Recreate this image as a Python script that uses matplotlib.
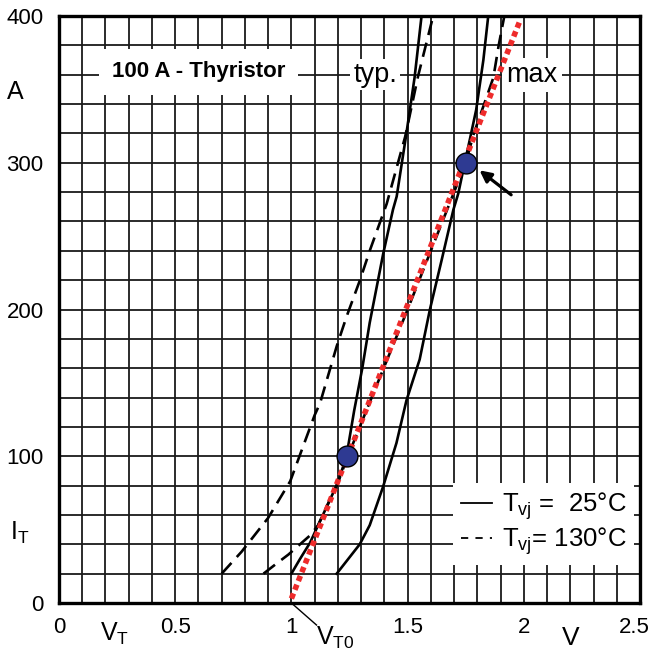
import numpy as np
import matplotlib
matplotlib.use("Agg")
import matplotlib.pyplot as plt
import matplotlib.transforms as mtransforms

plt.rcParams['font.family'] = ['Liberation Sans', 'DejaVu Sans']
plt.rcParams['mathtext.fontset'] = 'custom'
plt.rcParams['mathtext.rm'] = 'Liberation Sans'
plt.rcParams['mathtext.it'] = 'Liberation Sans'

# on-state characteristics (V, A)
typ25_v = [1.0, 1.037, 1.08, 1.115, 1.2, 1.237, 1.27, 1.305, 1.337, 1.395, 1.437, 1.453, 1.493, 1.53, 1.56]
typ25_i = [20, 30, 41, 53, 82, 100, 131, 160, 191, 238, 268, 277, 318, 358, 400]

max25_v = [1.195, 1.294, 1.337, 1.394, 1.452, 1.495, 1.552, 1.596, 1.647, 1.697, 1.718, 1.746, 1.768, 1.795, 1.826, 1.847]
max25_i = [20, 40, 53, 79, 109, 138, 166, 200, 234, 268, 279, 300, 316, 336, 370, 400]

typ130_v = [0.70, 0.786, 0.90, 0.995, 1.10, 1.123, 1.195, 1.237, 1.295, 1.337, 1.41, 1.49, 1.545, 1.61]
typ130_i = [20, 35, 58, 83, 128, 136, 175, 195, 220, 240, 272, 318, 359, 400]

max130_v = [0.88, 0.937, 0.987, 1.037, 1.08, 1.115, 1.2, 1.243, 1.335, 1.50, 1.67, 1.75, 1.785, 1.825, 1.869, 1.892, 1.915]
max130_i = [20, 27, 33, 40, 46, 53, 82, 100, 136, 200, 268, 300, 320, 338, 358, 380, 399]

# equivalent straight line and its two points
line_v = [1.0, 1.984]
line_i = [3, 397]
pts_v = [1.24, 1.75]
pts_i = [100, 300]

xticks = [0, 0.5, 1, 1.5, 2, 2.5]
xticklabels = ['0', '0.5', '1', '1.5', '2', '2.5']
yticks = [0, 100, 200, 300, 400]

fig = plt.figure(figsize=(6.53, 6.62), dpi=100)
ax = fig.add_axes([59/653, 59/662, 581/653, 587/662])
ax.set_xlim(0, 2.5)
ax.set_ylim(0, 400)

ax.set_xticks(xticks)
ax.set_xticklabels(xticklabels)
ax.set_yticks(yticks)
ax.set_xticks(np.arange(0, 2.51, 0.1), minor=True)
ax.set_yticks(np.arange(0, 401, 20), minor=True)
ax.tick_params(which='both', length=0)
ax.tick_params(axis='x', pad=10, labelsize=16)
ax.tick_params(axis='y', pad=11, labelsize=16)
ax.grid(which='both', color='#1a1a1a', lw=1.3, zorder=0)
ax.set_axisbelow(True)
for s in ax.spines.values():
    s.set_linewidth(2.4)

# last x label sits a little left so it stays inside the figure
last = ax.get_xticklabels()[-1]
last.set_transform(last.get_transform() + mtransforms.ScaledTranslation(-4/72, 0, fig.dpi_scale_trans))

ax.plot(typ25_v, typ25_i, color='k', lw=1.9, zorder=3)
ax.plot(max25_v, max25_i, color='k', lw=1.9, zorder=3)
ax.plot(typ130_v, typ130_i, color='k', lw=1.9, dashes=(5.5, 3), zorder=3)
ax.plot(max130_v, max130_i, color='k', lw=1.9, dashes=(5.5, 3), zorder=3)
ax.plot(line_v, line_i, color='#ee2b2b', lw=4, linestyle=(0, (1, 0.7)),
        dash_capstyle='butt', zorder=4)
ax.plot(pts_v, pts_i, 'o', ms=15, mfc='#2e3a92', mec='k', mew=1, zorder=5)

ax.annotate('', xy=(1.80, 296), xytext=(1.955, 277),
            arrowprops=dict(arrowstyle='-|>', color='k', lw=2.3, mutation_scale=17),
            zorder=6)

ax.text(0.6, 362, '100 A - Thyristor', fontsize=16, fontweight='bold',
        ha='center', va='center', bbox=dict(facecolor='white', edgecolor='none', pad=9), zorder=2)
ax.text(1.36, 360, 'typ.', fontsize=19.5, ha='center', va='center',
        bbox=dict(facecolor='white', edgecolor='none', pad=2), zorder=2)
ax.text(2.035, 360, 'max', fontsize=19.5, ha='center', va='center',
        bbox=dict(facecolor='white', edgecolor='none', pad=3), zorder=2)

# axis annotations
ax.text(-0.19, 348, 'A', fontsize=18, ha='center', va='center', clip_on=False)
ax.text(-0.17, 48, r'I$_{\rm T}$', fontsize=18, ha='center', va='center', clip_on=False)
ax.text(0.24, -21, r'V$_{\rm T}$', fontsize=18, ha='center', va='center', clip_on=False)
ax.text(2.2, -24, 'V', fontsize=19, ha='center', va='center', clip_on=False)
ax.text(1.19, -24, r'V$_{\rm T0}$', fontsize=18, ha='center', va='center', clip_on=False)
ax.plot([1.0, 1.108], [0, -15], color='k', lw=1, clip_on=False, zorder=6)

# legend
ax.plot([], [], color='k', lw=1.3, label=r'T$_{\rm vj}$ =  25°C')
ax.plot([], [], color='k', lw=1.3, dashes=(4, 4), label=r'T$_{\rm vj}$= 130°C')
h, l = ax.get_legend_handles_labels()
leg = ax.legend(h[-2:], l[-2:], loc='lower right', bbox_to_anchor=(0.99, 0.065),
                fontsize=18.5, frameon=True, fancybox=False, handlelength=1.2,
                handletextpad=0.4, borderpad=0.3, labelspacing=0.12, borderaxespad=0)
leg.get_frame().set_edgecolor('none')
leg.get_frame().set_facecolor('white')
leg.get_frame().set_alpha(1)
leg.set_zorder(7)

fig.savefig('out.png', dpi=100)
